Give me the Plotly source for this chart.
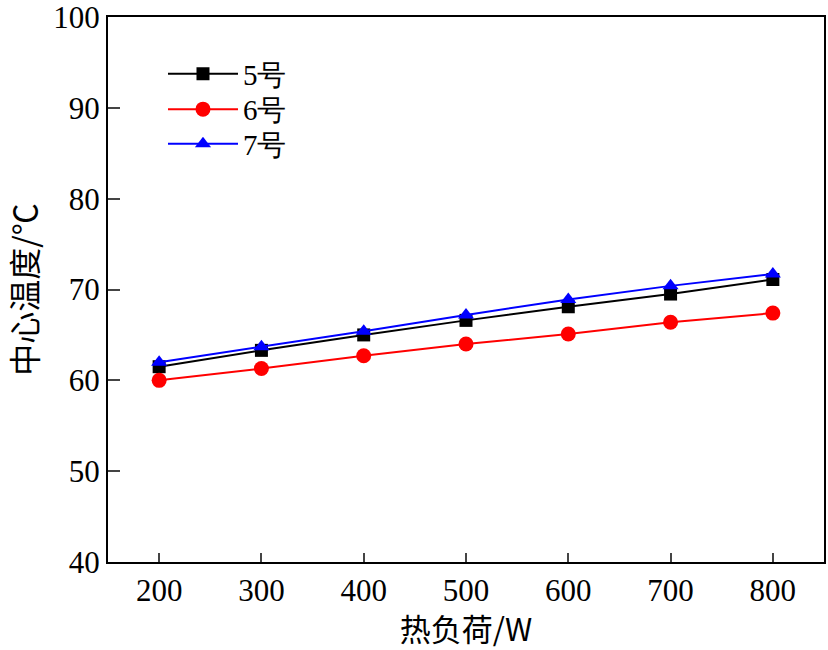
import plotly.graph_objects as go

heat_load = [200, 300, 400, 500, 600, 700, 800]
temp_5 = [61.5, 63.3, 65.0, 66.6, 68.1, 69.5, 71.1]
temp_6 = [60.0, 61.3, 62.7, 64.0, 65.1, 66.4, 67.4]
temp_7 = [62.0, 63.7, 65.4, 67.2, 68.9, 70.4, 71.7]
series_names = ["5号", "6号", "7号"]
y_ticks = [40, 50, 60, 70, 80, 90, 100]

fig = go.Figure()
styles = [
    (temp_5, "black", "square", 13, "legend"),
    (temp_6, "red", "circle", 15, "legend2"),
    (temp_7, "blue", "triangle-up", 14, "legend3"),
]
for name, (vals, col, sym, sz, lg) in zip(series_names, styles):
    fig.add_trace(go.Scatter(
        x=heat_load, y=vals, name=name, mode="lines+markers",
        line=dict(color=col, width=2),
        marker=dict(symbol=sym, size=sz, color=col),
        legend=lg,
    ))

serif = "Liberation Serif, Times New Roman, serif"
cjk = "Noto Sans CJK SC, sans-serif"
leg_common = dict(x=0.0768, xanchor="left", yanchor="middle",
                  bgcolor="rgba(0,0,0,0)", font=dict(family=serif, size=29),
                  itemwidth=70)
fig.update_layout(
    width=828, height=650,
    margin=dict(l=108, r=4, t=17, b=88),
    paper_bgcolor="white", plot_bgcolor="white",
    font=dict(family=serif, size=31, color="black"),
    showlegend=True,
    legend=dict(y=0.8954, **leg_common),
    legend2=dict(y=0.8306, **leg_common),
    legend3=dict(y=0.767, **leg_common),
    xaxis=dict(
        range=[150, 850], tickvals=heat_load, ticks="inside", ticklen=9,
        tickwidth=2, showline=True, linewidth=2, linecolor="black", mirror=True,
        showgrid=False, zeroline=False, ticklabeloverflow="allow", automargin=False,
        title=dict(text="热负荷/W", font=dict(family=cjk, size=31), standoff=13),
    ),
    yaxis=dict(
        range=[40, 100], tickvals=y_ticks, ticks="inside", ticklen=12,
        tickwidth=2, showline=True, linewidth=2, linecolor="black", mirror=True,
        showgrid=False, zeroline=False, ticklabeloverflow="allow", automargin=False,
        title=dict(text="中心温度/℃", font=dict(family=cjk, size=32), standoff=6),
    ),
)
fig.write_html("out.html", config={"displayModeBar": False},
               post_script="document.body.style.margin='0';")
